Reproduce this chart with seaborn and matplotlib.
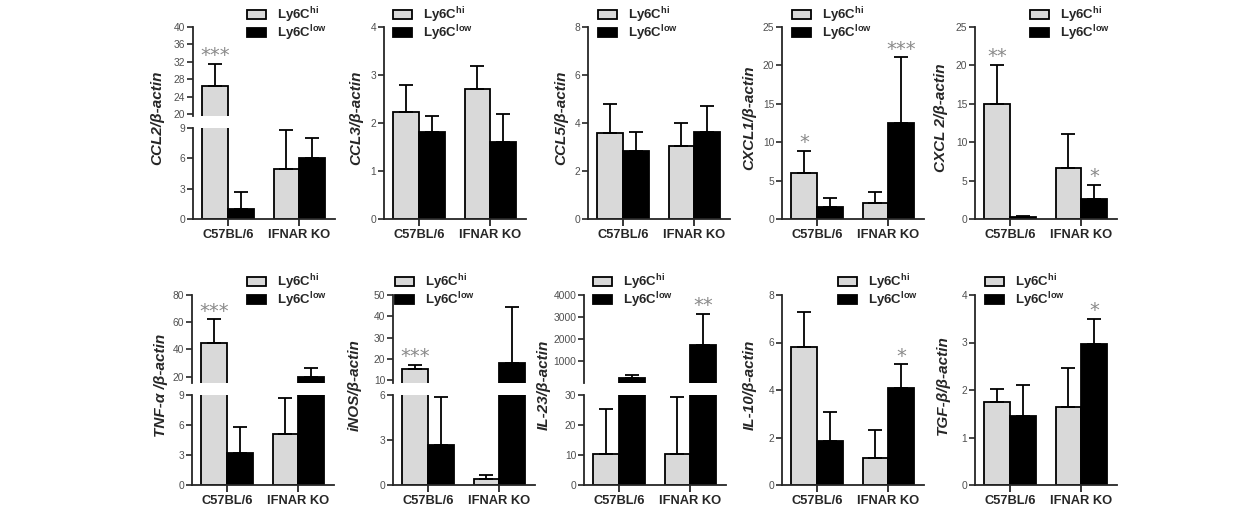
import numpy as np
import pandas as pd
import matplotlib.pyplot as plt
import seaborn as sns
from matplotlib.patches import Patch

# valores, orden: [C57BL/6 hi, C57BL/6 low, IFNAR KO hi, IFNAR KO low]
strains = ["C57BL/6", "IFNAR KO"]
subsets = ["hi", "low"]

ccl2 = [26.4, 0.95, 4.9, 6.0]
ccl2_top = [31.6, 2.65, 8.8, 8.0]
ccl2_sig = ["***", "", "", ""]

ccl3 = [2.22, 1.81, 2.7, 1.61]
ccl3_top = [2.8, 2.14, 3.19, 2.19]
ccl3_sig = ["", "", "", ""]

ccl5 = [3.59, 2.82, 3.03, 3.62]
ccl5_top = [4.81, 3.62, 4.01, 4.71]
ccl5_sig = ["", "", "", ""]

cxcl1 = [5.99, 1.53, 2.14, 12.45]
cxcl1_top = [8.82, 2.7, 3.5, 21.05]
cxcl1_sig = ["*", "", "", "***"]

cxcl2 = [14.96, 0.3, 6.6, 2.6]
cxcl2_top = [20.1, 0.45, 11.1, 4.4]
cxcl2_sig = ["**", "", "", "*"]

tnf = [45.0, 3.2, 5.1, 19.5]
tnf_top = [62.0, 5.8, 8.7, 26.0]
tnf_sig = ["***", "", "", ""]

inos = [15.3, 2.65, 0.4, 18.0]
inos_top = [17.3, 5.9, 0.7, 44.4]
inos_sig = ["***", "", "", ""]

il23 = [10.5, 240, 10.5, 1730]
il23_top = [25.5, 390, 29.5, 3140]
il23_sig = ["", "", "", "**"]

il10 = [5.8, 1.85, 1.13, 4.07]
il10_top = [7.3, 3.08, 2.3, 5.08]
il10_sig = ["", "", "", "*"]

tgf = [1.74, 1.46, 1.65, 2.97]
tgf_top = [2.03, 2.1, 2.46, 3.49]
tgf_sig = ["", "", "", "*"]

colores = {"hi": "#d9d9d9", "low": "black"}

sns.set_style("ticks")
plt.rcParams["font.family"] = ["Liberation Sans", "DejaVu Sans"]
plt.rcParams["mathtext.fontset"] = "custom"
plt.rcParams["mathtext.rm"] = "Liberation Sans:bold"
plt.rcParams["axes.linewidth"] = 1.3

W, H = 1235, 524
fig = plt.figure(figsize=(W / 100, H / 100), dpi=100)

# (fila, x eje, medias, tope error, signif., etiqueta, tramo inferior, tramo superior, x leyenda, x etiqueta)
paneles = [
    (0, 193, ccl2, ccl2_top, ccl2_sig, "CCL2/β-actin", ((0, 9), [0, 3, 6, 9]), ((19.6, 40), [20, 24, 28, 32, 36, 40]), 54, 36),
    (0, 384, ccl3, ccl3_top, ccl3_sig, "CCL3/β-actin", ((0, 4), [0, 1, 2, 3, 4]), None, 9, 28),
    (0, 588, ccl5, ccl5_top, ccl5_sig, "CCL5/β-actin", ((0, 8), [0, 2, 4, 6, 8]), None, 10, 27),
    (0, 782, cxcl1, cxcl1_top, cxcl1_sig, "CXCL1/β-actin", ((0, 25), [0, 5, 10, 15, 20, 25]), None, 10, 33),
    (0, 975, cxcl2, cxcl2_top, cxcl2_sig, "CXCL 2/β-actin", ((0, 25), [0, 5, 10, 15, 20, 25]), None, 55, 34),
    (1, 192, tnf, tnf_top, tnf_sig, "TNF-α /β-actin", ((0, 9), [0, 3, 6, 9]), ((15.3, 80), [20, 40, 60, 80]), 55, 31),
    (1, 393, inos, inos_top, inos_sig, "iNOS/β-actin", ((0, 6), [0, 3, 6]), ((8.6, 50), [10, 20, 30, 40, 50]), 2, 38),
    (1, 584, il23, il23_top, il23_sig, "IL-23/β-actin", ((0, 30), [0, 10, 20, 30]), ((30, 4000), [1000, 2000, 3000, 4000]), 9, 40),
    (1, 782, il10, il10_top, il10_sig, "IL-10/β-actin", ((0, 8), [0, 2, 4, 6, 8]), None, 56, 32),
    (1, 975, tgf, tgf_top, tgf_sig, "TGF-β/β-actin", ((0, 4), [0, 1, 2, 3, 4]), None, 10, 32),
]

filas = {0: (27, 219, 91, 5), 1: (295, 485, 90, 272)}  # top, bottom, alto tramo inferior, top leyenda
ancho = 142
gap = 12


def nuevo_eje(x, top, bottom):
    return fig.add_axes([x / W, 1 - bottom / H, ancho / W, (bottom - top) / H])


def barras(ax, medias, topes, minimo=None):
    df = pd.DataFrame({"cepa": np.repeat(strains, 2), "sub": subsets * 2, "valor": medias})
    sns.barplot(data=df, x="cepa", y="valor", hue="sub", order=strains, hue_order=subsets,
                palette=colores, saturation=1, width=0.72, gap=0, edgecolor="black",
                linewidth=1.3, errorbar=None, legend=False, ax=ax)
    conts = list(ax.containers)
    centros = {}
    for h, cont in enumerate(conts):
        for s, bar in enumerate(cont):
            i = s * 2 + h
            xc = bar.get_x() + bar.get_width() / 2
            centros[i] = xc
            if minimo is not None and medias[i] < minimo:
                bar.set_visible(False)
                if topes[i] < minimo:
                    continue
            ax.errorbar(xc, medias[i], yerr=[[0], [topes[i] - medias[i]]], fmt="none",
                        ecolor="black", elinewidth=1.3, capsize=5, capthick=1.3, zorder=3)
    return centros


def estilo(ax, lims, ticks, abajo=True):
    ax.set_xlim(-0.49, 1.5)
    ax.set_ylim(*lims)
    ax.set_yticks(ticks)
    ax.set_xlabel("")
    ax.set_ylabel("")
    sns.despine(ax=ax)
    ax.tick_params(axis="y", labelsize=7.4, labelcolor="#505050", length=4, width=1.2, pad=1.5)
    if abajo:
        ax.set_xticks([0, 1])
        ax.set_xticklabels(strains, fontweight="bold", fontsize=9.3)
        ax.tick_params(axis="x", length=5, width=1.3, pad=2)
    else:
        ax.spines["bottom"].set_visible(False)
        ax.tick_params(axis="x", bottom=False, labelbottom=False)


for fila, x, medias, topes, sig, etiqueta, inf, sup, xleg, xlab in paneles:
    top, bottom, h_inf, top_leg = filas[fila]
    if sup is None:
        ax = nuevo_eje(x, top, bottom)
        c = barras(ax, medias, topes)
        estilo(ax, *inf)
        ejes_sig = [(ax, inf[0][1])]
        ax_leg = ax
    else:
        ax_lo = nuevo_eje(x, bottom - h_inf, bottom)
        ax_hi = nuevo_eje(x, top, bottom - h_inf - gap)
        c = barras(ax_lo, medias, topes)
        barras(ax_hi, medias, topes, minimo=sup[0][0])
        estilo(ax_lo, *inf)
        estilo(ax_hi, *sup, abajo=False)
        ejes_sig = [(ax_lo, inf[0][1]), (ax_hi, sup[0][1])]
        ax_leg = ax_hi

    for i, s in enumerate(sig):
        if not s:
            continue
        destino = ejes_sig[0][0]
        for a, lim in ejes_sig:
            if topes[i] <= lim:
                destino = a
                break
        destino.annotate(s, (c[i], topes[i]), xytext=(0, 2), textcoords="offset points",
                         ha="center", va="baseline", fontsize=14, color="#8a8a8a",
                         family="DejaVu Sans", annotation_clip=False)

    fig.text((x - xlab) / W, 1 - ((top + bottom) / 2 - 5) / H, etiqueta, rotation=90,
             ha="center", va="center", fontsize=11, fontweight="bold", fontstyle="italic")

    handles = [Patch(facecolor=colores["hi"], edgecolor="black", linewidth=1.3),
               Patch(facecolor=colores["low"], edgecolor="black", linewidth=1.3)]
    ax_leg.legend(handles, [r"Ly6C$^{\mathrm{hi}}$", r"Ly6C$^{\mathrm{low}}$"],
                  loc="upper left", bbox_to_anchor=((x + xleg) / W, 1 - top_leg / H),
                  bbox_transform=fig.transFigure, frameon=False, borderpad=0, borderaxespad=0,
                  handlelength=1.45, handleheight=0.65, handletextpad=0.8, labelspacing=-0.1,
                  prop={"weight": "bold", "size": 9.5})

fig.savefig("out.png", dpi=100)
